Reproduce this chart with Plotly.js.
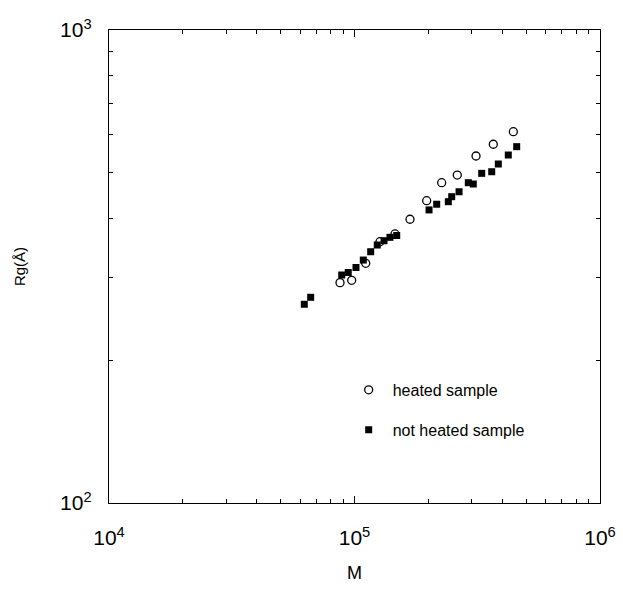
<!DOCTYPE html>
<html>
<head>
<meta charset="utf-8">
<script src="https://cdn.plot.ly/plotly-3.0.1.min.js"></script>
<style>html,body{margin:0;padding:0;background:#fff;}#chart{width:623px;height:597px;}</style>
</head>
<body>
<div id="chart"></div>
<script>
// heated sample (open circles)
const heatedM  = [87300, 97400, 111100, 127000, 146200, 168300, 196800, 226500, 262200, 312600, 367600, 443600];
const heatedRg = [292.3, 295.7, 321.2, 356.8, 370.5, 398.0, 435.6, 475.5, 493.6, 541.5, 573.4, 609.5];
// not heated sample (filled squares)
const notHeatedM  = [62450, 66300, 88700, 94300, 101400, 108600, 116400, 123800, 131900, 139500, 148600,
                     201200, 216200, 241100, 248900, 266600, 290800, 304700, 329700, 362200, 385300, 423100, 457800];
const notHeatedRg = [263.1, 272.2, 303.4, 307.1, 314.7, 326.3, 339.8, 351.1, 358.5, 364.5, 367.7,
                     416.5, 428.2, 433.5, 444.2, 455.0, 475.5, 472.5, 497.7, 501.6, 520.8, 544.1, 566.7];
const xTickVals = [1e4, 1e5, 1e6];
const xTickText = ['10<sup>4</sup>', '10<sup>5</sup>', '10<sup>6</sup>'];
const yTickVals = [1e2, 1e3];
const yTickText = ['10<sup>2</sup>', '10<sup>3</sup>'];

// minor tick positions (2..9 within each decade)
function minorTicks(decades) {
  const out = [];
  decades.forEach(d => { for (let k = 2; k <= 9; k++) out.push(k * d); });
  return out;
}
const xMinor = minorTicks([1e4, 1e5]);
const yMinor = minorTicks([1e2]);

const font = 'Liberation Sans, Arial, sans-serif';

const traces = [
  {
    x: heatedM, y: heatedRg, mode: 'markers', type: 'scatter', name: 'heated sample',
    legendgroup: 'a',
    marker: {symbol: 'circle-open', size: 8, color: '#000', line: {width: 1.3, color: '#000'}}
  },
  {
    x: notHeatedM, y: notHeatedRg, mode: 'markers', type: 'scatter', name: 'not heated sample',
    legendgroup: 'b',
    marker: {symbol: 'square', size: 7, color: '#000'}
  },
  { x: [], y: [], xaxis: 'x2', yaxis: 'y2', type: 'scatter', mode: 'markers', showlegend: false, hoverinfo: 'skip' }
];

const majorCommon = {
  type: 'log', showgrid: false, zeroline: false,
  showline: true, linecolor: '#000', linewidth: 1.2, mirror: 'ticks',
  ticks: 'inside', ticklen: 7, tickcolor: '#000', tickwidth: 1,
  tickfont: {family: font, size: 21, color: '#000'},
  tickmode: 'array'
};
const minorCommon = {
  type: 'log', showgrid: false, zeroline: false, showline: false, mirror: 'ticks',
  ticks: 'inside', ticklen: 4, tickcolor: '#000', tickwidth: 1,
  showticklabels: false, tickmode: 'array'
};

const layout = {
  width: 623, height: 597,
  margin: {l: 109, r: 23, t: 30, b: 94},
  paper_bgcolor: '#fff', plot_bgcolor: '#fff',
  showlegend: true,
  legend: {
    x: 0.48, y: 0.275, xanchor: 'left', yanchor: 'top',
    font: {family: font, size: 16, color: '#000'},
    bgcolor: 'rgba(0,0,0,0)', tracegroupgap: 16, itemwidth: 38
  },
  xaxis: Object.assign({}, majorCommon, {
    range: [4, 6], tickvals: xTickVals, ticktext: xTickText, ticklabelstandoff: 16,
    title: {text: 'M', font: {family: font, size: 18, color: '#000'}, standoff: 18}
  }),
  yaxis: Object.assign({}, majorCommon, {
    range: [2, 3], tickvals: yTickVals, ticktext: yTickText, ticklabelstandoff: 12,
    title: {text: 'Rg(Å)', font: {family: font, size: 15, color: '#000'}, standoff: 30}
  }),
  xaxis2: Object.assign({}, minorCommon, {
    range: [4, 6], tickvals: xMinor, overlaying: 'x', anchor: 'y2', side: 'bottom'
  }),
  yaxis2: Object.assign({}, minorCommon, {
    range: [2, 3], tickvals: yMinor, overlaying: 'y', anchor: 'x2', side: 'left'
  })
};

Plotly.newPlot('chart', traces, layout, {displayModeBar: false, staticPlot: true});
</script>
</body>
</html>
